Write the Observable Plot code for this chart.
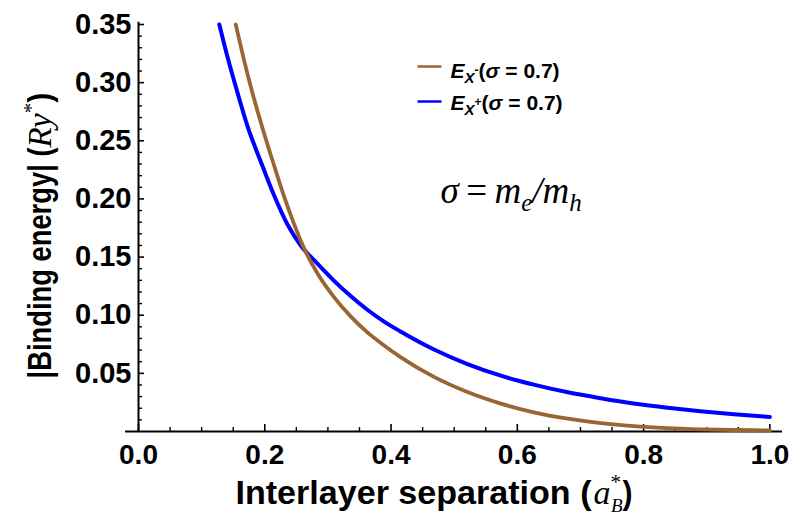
<!DOCTYPE html>
<html><head><meta charset="utf-8">
<script src="https://cdn.jsdelivr.net/npm/d3@7"></script>
<script src="https://cdn.jsdelivr.net/npm/@observablehq/plot@0.6"></script>
<style>body{margin:0;background:#fff;} svg{display:block;}</style>
</head><body><div id="chart"></div>
<script>
// Series E_X- (brown) and E_X+ (blue), sigma = 0.7
const xMinus = [0.154,0.166,0.182,0.198,0.214,0.230,0.246,0.261,0.285,0.309,0.336,0.363,0.389,0.415,0.468,0.521,0.574,0.626,0.680,0.732,0.784,0.838,0.890,0.943,1.0];
const yMinus = [0.350,0.322,0.288,0.258,0.230,0.203,0.179,0.159,0.1345,0.116,0.099,0.085,0.074,0.064,0.047,0.034,0.0240,0.0165,0.0110,0.0072,0.0046,0.0029,0.0019,0.0013,0.0009];
const xPlus = [0.128,0.141,0.157,0.173,0.193,0.214,0.236,0.257,0.283,0.309,0.336,0.363,0.389,0.415,0.468,0.521,0.574,0.626,0.680,0.732,0.784,0.838,0.890,0.943,1.0];
const yPlus = [0.350,0.322,0.291,0.262,0.233,0.204,0.178,0.160,0.1445,0.130,0.1165,0.1045,0.0945,0.086,0.0705,0.058,0.0480,0.0403,0.0337,0.0286,0.0241,0.0205,0.0175,0.0149,0.0125];
const seriesNames = ["E_X-", "E_X+"];
const seriesColors = ["#996633", "#0000ff"];
const xTicks = [0, 0.2, 0.4, 0.6, 0.8, 1.0];
const xTickLabels = ["0.0", "0.2", "0.4", "0.6", "0.8", "1.0"];
const xMinor = [0.05,0.1,0.15,0.25,0.3,0.35,0.45,0.5,0.55,0.65,0.7,0.75,0.85,0.9,0.95];
const yTicks = [0.05, 0.10, 0.15, 0.20, 0.25, 0.30, 0.35];
const yTickLabels = ["0.05", "0.10", "0.15", "0.20", "0.25", "0.30", "0.35"];
const yMinor = d3.range(1, 35).filter(i => i % 5 !== 0).map(i => i / 100);

const minus = xMinus.map((x, i) => ({x, y: yMinus[i], s: seriesNames[0]}));
const plus = xPlus.map((x, i) => ({x, y: yPlus[i], s: seriesNames[1]}));

const SANS = "'Liberation Sans', Arial, sans-serif";
const SERIF = "'Liberation Serif', 'Times New Roman', serif";
const hline = {draw(ctx, size) { ctx.moveTo(-12, 0); ctx.lineTo(12, 0); }};

const chart = Plot.plot({
  width: 806, height: 515,
  marginLeft: 138, marginRight: 24, marginTop: 24, marginBottom: 84,
  style: {fontFamily: SANS, color: "#000", background: "#fff", overflow: "visible"},
  x: {domain: [0, 1.02], axis: null},
  y: {domain: [0, 0.35], axis: null},
  marks: [
    Plot.ruleY([0], {insetLeft: -13, strokeWidth: 2, stroke: "#000"}),
    Plot.ruleX([0], {y1: 0, y2: 0.352, strokeWidth: 2, stroke: "#000"}),
    Plot.axisX(xTicks, {anchor: "bottom", tickSize: 7, dy: -7, strokeWidth: 1.6, tickFormat: () => "", label: null}),
    Plot.axisX(xMinor, {anchor: "bottom", tickSize: 4, dy: -4, strokeWidth: 1.4, tickFormat: () => "", label: null}),
    Plot.axisX(xTicks, {anchor: "bottom", tickSize: 0, tickPadding: 13, fontSize: 28, fontWeight: "bold", fill: "#000",
      tickFormat: d => xTickLabels[xTicks.indexOf(d)], label: null}),
    Plot.axisY(yTicks, {anchor: "left", tickSize: 6, dx: 6, strokeWidth: 1.6, tickFormat: () => "", label: null}),
    Plot.axisY(yMinor, {anchor: "left", tickSize: 4, dx: 4, strokeWidth: 1.4, tickFormat: () => "", label: null}),
    Plot.axisY(yTicks, {anchor: "left", tickSize: 0, tickPadding: 7, fontSize: 29, fontWeight: "bold", fill: "#000",
      tickFormat: d => yTickLabels[yTicks.indexOf(d)], label: null}),
    Plot.line(plus, {x: "x", y: "y", stroke: seriesColors[1], strokeWidth: 4, curve: "monotone-x"}),
    Plot.line(minus, {x: "x", y: "y", stroke: seriesColors[0], strokeWidth: 3.8, curve: "monotone-x"}),
    // legend swatches
    Plot.dot([seriesNames[0]], {frameAnchor: "top-left", dx: 291, dy: 42, symbol: hline, stroke: seriesColors[0], strokeWidth: 2.5, fill: "none", r: 10}),
    Plot.dot([seriesNames[1]], {frameAnchor: "top-left", dx: 291, dy: 77, symbol: hline, stroke: seriesColors[1], strokeWidth: 2.5, fill: "none", r: 10}),
    Plot.text(["XTITLE"], {frameAnchor: "bottom-left", textAnchor: "start", lineAnchor: "bottom", dx: 97, dy: 72, fontSize: 28}),
    Plot.text(["YTITLE"], {frameAnchor: "bottom-left", rotate: -90, textAnchor: "start", lineAnchor: "bottom", dx: -88, dy: -53, fontSize: 28}),
    Plot.text(["LEG0"], {frameAnchor: "top-left", textAnchor: "start", lineAnchor: "bottom", dx: 312, dy: 53, fontSize: 21}),
    Plot.text(["LEG1"], {frameAnchor: "top-left", textAnchor: "start", lineAnchor: "bottom", dx: 312, dy: 85, fontSize: 21}),
    Plot.text(["SIGMA"], {frameAnchor: "top-left", textAnchor: "start", lineAnchor: "bottom", dx: 302, dy: 178, fontSize: 36})
  ]
});
document.getElementById("chart").appendChild(chart);

function rich(placeholder, segs) {
  const el = [...chart.querySelectorAll("text")].find(t => t.textContent === placeholder);
  if (!el) return;
  el.textContent = "";
  for (const s of segs) {
    const ts = document.createElementNS("http://www.w3.org/2000/svg", "tspan");
    ts.textContent = s.t;
    ts.setAttribute("font-family", s.ff || SANS);
    ts.setAttribute("font-size", s.fs);
    ts.setAttribute("font-weight", s.fw || "normal");
    ts.setAttribute("font-style", s.st || "normal");
    ts.setAttribute("fill", "#000");
    if (s.dx) ts.setAttribute("dx", s.dx);
    if (s.dy) ts.setAttribute("dy", s.dy);
    if (s.len) { ts.setAttribute("textLength", s.len); ts.setAttribute("lengthAdjust", "spacingAndGlyphs"); }
    el.appendChild(ts);
  }
}
rich("XTITLE", [
  {t: "Interlayer separation (", fs: 34, fw: "bold", len: 356},
  {t: "a", fs: 34, ff: SERIF, st: "italic", dx: 2},
  {t: "*", fs: 21, ff: SERIF, dy: -15},
  {t: "B", fs: 19, ff: SERIF, st: "italic", dx: -10, dy: 23},
  {t: ")", fs: 34, fw: "bold", dy: -8, len: 10}
]);
rich("YTITLE", [
  {t: "|Binding energy| (", fs: 34, fw: "bold", len: 231},
  {t: "Ry", fs: 33, ff: SERIF, st: "italic"},
  {t: "*", fs: 21, ff: SERIF, dy: -13},
  {t: ")", fs: 34, fw: "bold", dy: 13, len: 10}
]);
const legSegs = (sign) => [
  {t: "E", fs: 21, fw: "bold", st: "italic"},
  {t: "X", fs: 15, fw: "bold", st: "italic", dy: 5},
  {t: sign, fs: 12, fw: "bold", dy: -9},
  {t: "(", fs: 21, fw: "bold", dy: 4},
  {t: "σ", fs: 21, fw: "bold", st: "italic"},
  {t: " = 0.7)", fs: 21, fw: "bold"}
];
rich("LEG0", legSegs("-"));
rich("LEG1", legSegs("+"));
rich("SIGMA", [
  {t: "σ", fs: 37, ff: SERIF, st: "italic"},
  {t: "\u2009=\u2009", fs: 37, ff: SERIF},
  {t: "m", fs: 37, ff: SERIF, st: "italic"},
  {t: "e", fs: 25, ff: SERIF, st: "italic", dy: 8},
  {t: "/", fs: 37, ff: SERIF, st: "italic", dy: -8},
  {t: "m", fs: 37, ff: SERIF, st: "italic"},
  {t: "h", fs: 25, ff: SERIF, st: "italic", dy: 8}
]);
</script>
</body></html>
